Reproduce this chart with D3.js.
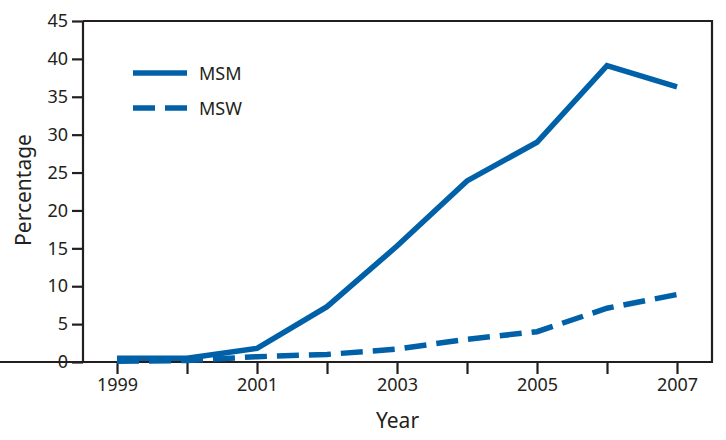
<!DOCTYPE html>
<html>
<head>
<meta charset="utf-8">
<script src="https://cdn.jsdelivr.net/npm/d3@7"></script>
<style>
  body { margin: 0; background: #fff; }
  text { font-family: "Noto Sans", sans-serif; fill: #231f20; }
</style>
</head>
<body>
<svg id="chart" width="726" height="440"></svg>
<script>
// values
var years = [1999, 2000, 2001, 2002, 2003, 2004, 2005, 2006, 2007];
var msm = [0.5, 0.5, 1.8, 7.3, 15.3, 23.9, 29.0, 39.1, 36.3];
var msw = [0.1, 0.2, 0.7, 1.0, 1.7, 3.0, 4.0, 7.1, 8.9];
var yTicks = [0, 5, 10, 15, 20, 25, 30, 35, 40, 45];
var xTickLabels = [1999, 2001, 2003, 2005, 2007];

var blue = "#0061a8";
var ink = "#231f20";

var svg = d3.select("#chart");
var mLeft = 83, mRight = 712, mTop = 21, mBottom = 362;

var x = d3.scaleLinear().domain([1998.514, 2007.5]).range([mLeft, mRight]);
var y = d3.scaleLinear().domain([0, 45]).range([mBottom, mTop]);

// frame top + right
svg.append("path")
  .attr("d", "M" + mLeft + "," + mTop + "H" + mRight + "V" + mBottom)
  .attr("fill", "none").attr("stroke", ink).attr("stroke-width", 2.2);

var yAxis = svg.append("g")
  .attr("transform", "translate(" + mLeft + ",0)")
  .call(d3.axisLeft(y).tickValues(yTicks).tickSize(11).tickPadding(4).tickSizeOuter(0));

var xAxis = svg.append("g")
  .attr("transform", "translate(0," + mBottom + ")")
  .call(d3.axisBottom(x).tickValues(years).tickSize(12).tickPadding(4).tickSizeOuter(0)
    .tickFormat(function(d) { return xTickLabels.indexOf(d) != -1 ? d : ""; }));

[yAxis, xAxis].forEach(function(a) {
  a.select(".domain").attr("stroke", ink).attr("stroke-width", 2.2);
  a.selectAll(".tick line").attr("stroke", ink).attr("stroke-width", 2.2);
  a.selectAll(".tick text").style("font-size", "18px").attr("fill", ink);
});
// domain lines span the whole box
yAxis.select(".domain").attr("d", "M0," + mTop + "V" + (mBottom + 1));
xAxis.select(".domain").attr("d", "M-1,0H" + (mRight + 1));

var line = d3.line()
  .x(function(d, i) { return x(years[i]); })
  .y(function(d) { return y(d); });

svg.append("path").datum(msw)
  .attr("d", line)
  .attr("fill", "none").attr("stroke", blue).attr("stroke-width", 5.5)
  .attr("stroke-dasharray", "22,10");

svg.append("path").datum(msm)
  .attr("d", line)
  .attr("fill", "none").attr("stroke", blue).attr("stroke-width", 5.5);

// legend
var legend = [{name: "MSM", dash: null, y: 73}, {name: "MSW", dash: "22,10", y: 108}];
legend.forEach(function(l) {
  svg.append("line")
    .attr("x1", 133).attr("x2", 187).attr("y1", l.y).attr("y2", l.y)
    .attr("stroke", blue).attr("stroke-width", 5.5)
    .attr("stroke-dasharray", l.dash);
  svg.append("text")
    .attr("x", 199).attr("y", l.y + 7)
    .style("font-size", "18px")
    .text(l.name);
});

// axis titles
svg.append("text")
  .attr("x", (mLeft + mRight) / 2).attr("y", 428)
  .attr("text-anchor", "middle")
  .style("font-size", "21px")
  .text("Year");

svg.append("text")
  .attr("transform", "translate(31,190) rotate(-90)")
  .attr("text-anchor", "middle")
  .style("font-size", "21px")
  .text("Percentage");
</script>
</body>
</html>
